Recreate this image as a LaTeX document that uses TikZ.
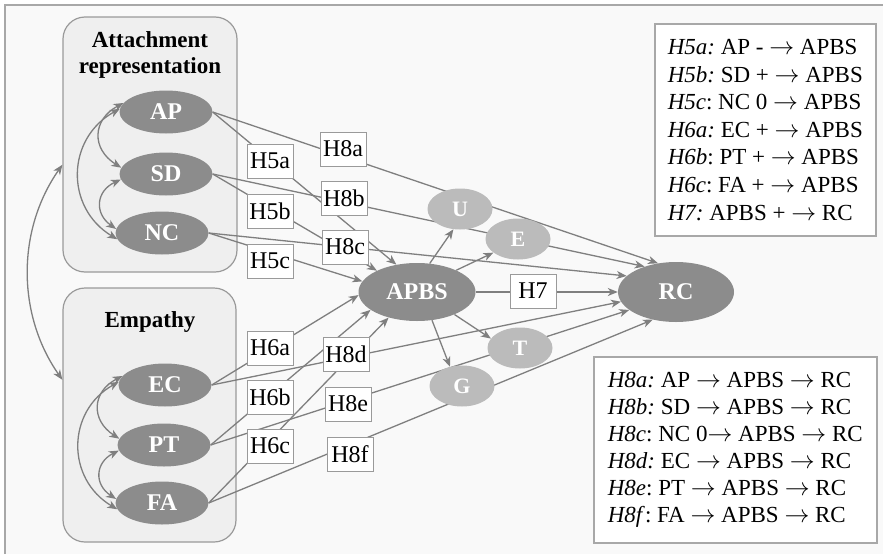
\documentclass[tikz,border=0pt]{standalone}
\usepackage{fontspec}
\setmainfont{Liberation Serif}
\usetikzlibrary{arrows.meta,shapes.geometric}

\definecolor{bgcol}{HTML}{F9F9F9}
\definecolor{framecol}{HTML}{A8A8A8}
\definecolor{grpfill}{HTML}{EFEFEF}
\definecolor{grpline}{HTML}{9A9A9A}
\definecolor{darknode}{HTML}{8C8C8C}
\definecolor{lightnode}{HTML}{BBBBBB}
\definecolor{linecol}{HTML}{7F7F7F}

\pgfdeclarelayer{bg}
\pgfdeclarelayer{edges}
\pgfsetlayers{bg,edges,main}
\frenchspacing

\begin{document}
\begin{tikzpicture}[x=1pt, y=-1pt, >={Stealth[length=10pt,width=8pt,inset=3pt]},
  font=\fontsize{23}{27.6}\selectfont,
  latent/.style={ellipse, fill=darknode, text=white, inner sep=0pt,
    font=\fontsize{24}{27}\selectfont\bfseries, minimum width=93, minimum height=43},
  mediator/.style={ellipse, fill=lightnode, text=white, inner sep=0pt,
    font=\fontsize{22}{24}\selectfont\bfseries, minimum width=65, minimum height=41},
  hyp/.style={draw=grpline, fill=white, line width=0.9pt, inner sep=0pt,
    font=\fontsize{24}{28}\selectfont, minimum width=46, minimum height=34},
  group/.style={draw=grpline, fill=grpfill, line width=1.2pt, rounded corners=22pt},
  grptitle/.style={font=\fontsize{23}{26}\selectfont\bfseries, align=center},
  legend/.style={draw=framecol, fill=white, line width=1.6pt, align=left, inner sep=0pt},
  edge/.style={->, draw=linecol, line width=1.3pt},
  biarrow/.style={<->, draw=linecol, line width=1.3pt}]
  \useasboundingbox (0,0) rectangle (883,554);

  % attachment representation
  \node[latent] (AP) at (166,112) {AP};
  \node[latent] (SD) at (166,174) {SD};
  \node[latent] (NC) at (162,233) {NC};

  % empathy
  \node[latent] (EC) at (165,385) {EC};
  \node[latent] (PT) at (164,445) {PT};
  \node[latent] (FA) at (162,503) {FA};

  % mediator and outcome
  \node[latent, minimum width=117, minimum height=58] (APBS) at (417,292) {APBS};
  \node[latent, minimum width=116, minimum height=60] (RC) at (676,292) {RC};
  \node[mediator] (U) at (460,209) {U};
  \node[mediator] (E) at (518,239) {E};
  \node[mediator] (T) at (520,348) {T};
  \node[mediator] (G) at (462,386) {G};

  % hypothesis labels
  \node[hyp] (h5a) at (270,161) {H5a};
  \node[hyp] (h5b) at (270,211) {H5b};
  \node[hyp] (h5c) at (270,261) {H5c};
  \node[hyp] (h6a) at (270,348) {H6a};
  \node[hyp] (h6b) at (270,397) {H6b};
  \node[hyp] (h6c) at (270,446) {H6c};
  \node[hyp] (h8a) at (343,149) {H8a};
  \node[hyp] (h8b) at (344,198) {H8b};
  \node[hyp] (h8c) at (345,247) {H8c};
  \node[hyp] (h8d) at (346,354) {H8d};
  \node[hyp] (h8e) at (348,404) {H8e};
  \node[hyp] (h8f) at (350,454) {H8f};
  \node[hyp] (h7) at (533,291) {H7};

  % legends
  \node[legend, anchor=north west, minimum width=221, minimum height=212] (leg1) at (654,23)
    {\textit{H5a:} AP - $\rightarrow$ APBS\\
     \textit{H5b:} SD + $\rightarrow$ APBS\\
     \textit{H5c}: NC 0 $\rightarrow$ APBS\\
     \textit{H6a:} EC + $\rightarrow$ APBS\\
     \textit{H6b}: PT + $\rightarrow$ APBS\\
     \textit{H6c}: FA + $\rightarrow$ APBS\\
     \textit{H7:} APBS + $\rightarrow$ RC};
  \node[legend, anchor=north west, minimum width=283, minimum height=186,
    font=\fontsize{23}{27}\selectfont] (leg2) at (593,356)
    {\textit{H8a:} AP $\rightarrow$ APBS $\rightarrow$ RC\\
     \textit{H8b:} SD $\rightarrow$ APBS $\rightarrow$ RC\\
     \textit{H8c}: NC 0$\rightarrow$ APBS $\rightarrow$ RC\\
     \textit{H8d:} EC $\rightarrow$ APBS $\rightarrow$ RC\\
     \textit{H8e}: PT $\rightarrow$ APBS $\rightarrow$ RC\\
     \textit{H8f}: FA $\rightarrow$ APBS $\rightarrow$ RC};

  % frame and groups
  \begin{pgfonlayer}{bg}
    \fill[bgcol] (5,5) rectangle (883,554);
    \draw[framecol, line width=1.8pt] (5,554) -- (5,5) -- (883,5);
    \node[group, minimum width=174, minimum height=255] (attgrp) at (150,144.5) {};
    \node[group, minimum width=173, minimum height=254] (empgrp) at (149.5,415) {};
    \node[grptitle] (atttitle) at (150,55) {Attachment\\representation};
    \node[grptitle] (emptitle) at (150,322) {Empathy};
  \end{pgfonlayer}

  \begin{pgfonlayer}{edges}
    % direct and indirect paths
    \foreach \src/\a/\b in {AP/127/122, SD/152/141, NC/169/162, EC/183/190, PT/201/201, FA/222/230} {
      \draw[edge] (\src.east) -- (APBS.\a);
      \draw[edge] (\src.east) -- (RC.\b);
    }
    \foreach \med/\a/\b in {U/66/252, E/29/209, T/329/162, G/298/122}
      \draw[edge] (APBS.\a) -- (\med.\b);
    \draw[edge] (APBS.east) -- (RC.west);

    % correlations
    \draw[biarrow] (AP.168) to[bend right=60, looseness=1.4] (SD.172);
    \draw[biarrow] (SD.187) to[bend right=60, looseness=1.4] (NC.175);
    \draw[biarrow] (AP.176) to[bend right=60, looseness=1.2] (NC.188);
    \draw[biarrow] (EC.168) to[bend right=60, looseness=1.4] (PT.172);
    \draw[biarrow] (PT.187) to[bend right=60, looseness=1.4] (FA.175);
    \draw[biarrow] (EC.176) to[bend right=60, looseness=1.2] (FA.188);
    \draw[biarrow] (attgrp.193) to[out=235, in=125, looseness=0.95] (empgrp.158);
  \end{pgfonlayer}
\end{tikzpicture}
\end{document}
